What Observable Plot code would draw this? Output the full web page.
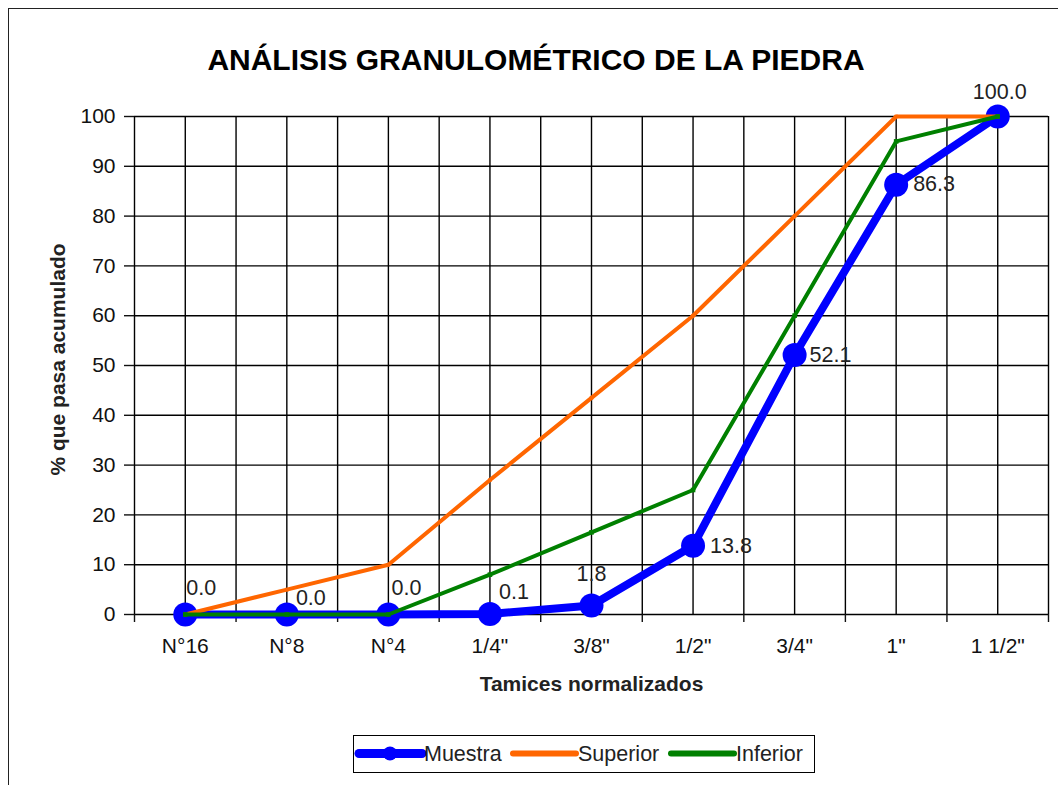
<!DOCTYPE html>
<html>
<head>
<meta charset="utf-8">
<script src="https://cdn.jsdelivr.net/npm/d3@7"></script>
<script src="https://cdn.jsdelivr.net/npm/@observablehq/plot@0.6"></script>
<style>
  html, body { margin: 0; padding: 0; background: #fff; }
  #wrap { position: relative; width: 1058px; height: 785px; overflow: hidden; font-family: "Liberation Sans", Arial, sans-serif; }
  #frame { position: absolute; left: 8px; top: 8px; width: 1200px; height: 900px; border: 1.5px solid #222; box-sizing: border-box; }
  #title { position: absolute; left: 0; width: 1072px; top: 40px; text-align: center; font-weight: bold; font-size: 30px; color: #000; line-height: 40px; }
  #chart { position: absolute; left: 0; top: 0; }
  #legend { position: absolute; left: 353px; top: 735px; width: 462px; height: 38px; border: 1.5px solid #000; box-sizing: border-box; background: #fff; }
</style>
</head>
<body>
<div id="wrap">
  <div id="frame"></div>
  <div id="chart"></div>
  <div id="title">ANÁLISIS GRANULOMÉTRICO DE LA PIEDRA</div>
  <div id="legend"></div>
</div>
<script>
// ---- data ----
const categories = ["N°16", "N°8", "N°4", "1/4\"", "3/8\"", "1/2\"", "3/4\"", "1\"", "1 1/2\""];
const muestra  = [0.0, 0.0, 0.0, 0.1, 1.8, 13.8, 52.1, 86.3, 100.0];
const superior = [0, 5, 10, 27, 43.5, 60, 80, 100, 100];
const inferior = [0, 0, 0, 8, 16.5, 25, 60, 95, 100];
const yTicks = [0, 10, 20, 30, 40, 50, 60, 70, 80, 90, 100];
const seriesNames = ["Muestra", "Superior", "Inferior"];
const yLabel = "% que pasa acumulado";
const xLabel = "Tamices normalizados";

// ---- build ----
const toRows = (arr) => arr.map((v, i) => ({i, v}));
const mRows = toRows(muestra), sRows = toRows(superior), iRows = toRows(inferior);

const BLUE = "#0000FF", ORANGE = "#FF6600", GREEN = "#008000";

// label placement (layout only): [textAnchor, dx, dy]
const place = [
  ["middle", 16, -26], ["middle", 24, -16], ["middle", 18, -26], ["middle", 24, -22],
  ["middle", 0, -31], ["start", 17, 0], ["start", 15, 0], ["start", 17, -1], ["middle", 2, -24]
];
const labelMarks = mRows.map((d, k) => Plot.text([d], {
  x: "i", y: "v", text: (r) => r.v.toFixed(1),
  textAnchor: place[k][0], dx: place[k][1], dy: place[k][2],
  fontSize: 21.5, fill: "#222"
}));

const gridX = d3.range(-0.5, 8.51, 0.5);
const bounds = d3.range(-0.5, 8.51, 1);

const chart = Plot.plot({
  width: 1058, height: 785,
  marginLeft: 134, marginRight: 10, marginTop: 116, marginBottom: 171,
  style: {fontFamily: "'Liberation Sans', Arial, sans-serif", fontSize: "21px", color: "#111", background: "transparent"},
  x: {domain: [-0.5, 8.5]},
  y: {domain: [0, 100]},
  marks: [
    Plot.ruleY(yTicks, {stroke: "#000", strokeWidth: 1.4}),
    Plot.ruleX(gridX, {stroke: "#000", strokeWidth: 1.4}),
    Plot.axisY(yTicks, {tickSize: 10, tickPadding: 9, fontSize: 21, label: null, strokeWidth: 1.4}),
    Plot.axisX(bounds, {tickSize: 8, tickFormat: () => "", label: null, strokeWidth: 1.4}),
    Plot.axisX(d3.range(0, 9), {tickSize: 0, tickPadding: 24, tickFormat: (i) => categories[i], fontSize: 21, label: null}),
    Plot.text([yLabel], {frameAnchor: "left", textAnchor: "middle", dx: -76, dy: -6, rotate: -90, fontWeight: "bold", fontSize: 21, fill: "#222"}),
    Plot.text([xLabel], {frameAnchor: "bottom", textAnchor: "middle", dy: 76, fontWeight: "bold", fontSize: 21, fill: "#222"}),
    Plot.line(mRows, {x: "i", y: "v", stroke: BLUE, strokeWidth: 8}),
    Plot.dot(mRows, {x: "i", y: "v", r: 12, fill: BLUE}),
    Plot.line(sRows, {x: "i", y: "v", stroke: ORANGE, strokeWidth: 4}),
    Plot.dot(sRows, {x: "i", y: "v", symbol: "square", r: 2, fill: ORANGE}),
    Plot.line(iRows, {x: "i", y: "v", stroke: GREEN, strokeWidth: 4}),
    Plot.dot(iRows, {x: "i", y: "v", symbol: "square", r: 2.6, fill: GREEN}),
    ...labelMarks
  ]
});
document.getElementById("chart").appendChild(chart);

// ---- legend ----
const colors = [BLUE, ORANGE, GREEN];
const lx = [5, 159, 317];
const ns = "http://www.w3.org/2000/svg";
const lsvg = document.createElementNS(ns, "svg");
lsvg.setAttribute("width", 459); lsvg.setAttribute("height", 35);
lsvg.style.fontFamily = "'Liberation Sans', Arial, sans-serif";
seriesNames.forEach((name, k) => {
  const ln = document.createElementNS(ns, "line");
  ln.setAttribute("x1", lx[k]); ln.setAttribute("x2", lx[k] + 63);
  ln.setAttribute("y1", 17.5); ln.setAttribute("y2", 17.5);
  ln.setAttribute("stroke", colors[k]);
  ln.setAttribute("stroke-width", k === 0 ? 9 : 6);
  ln.setAttribute("stroke-linecap", "round");
  lsvg.appendChild(ln);
  if (k === 0) {
    const c = document.createElementNS(ns, "circle");
    c.setAttribute("cx", lx[k] + 31); c.setAttribute("cy", 17.5); c.setAttribute("r", 7);
    c.setAttribute("fill", BLUE);
    lsvg.appendChild(c);
  }
  const t = document.createElementNS(ns, "text");
  t.setAttribute("x", lx[k] + 65); t.setAttribute("y", 17.5);
  t.setAttribute("dy", "0.36em");
  t.setAttribute("font-size", 21.5);
  t.setAttribute("fill", "#222");
  t.textContent = name;
  lsvg.appendChild(t);
});
document.getElementById("legend").appendChild(lsvg);
</script>
</body>
</html>
